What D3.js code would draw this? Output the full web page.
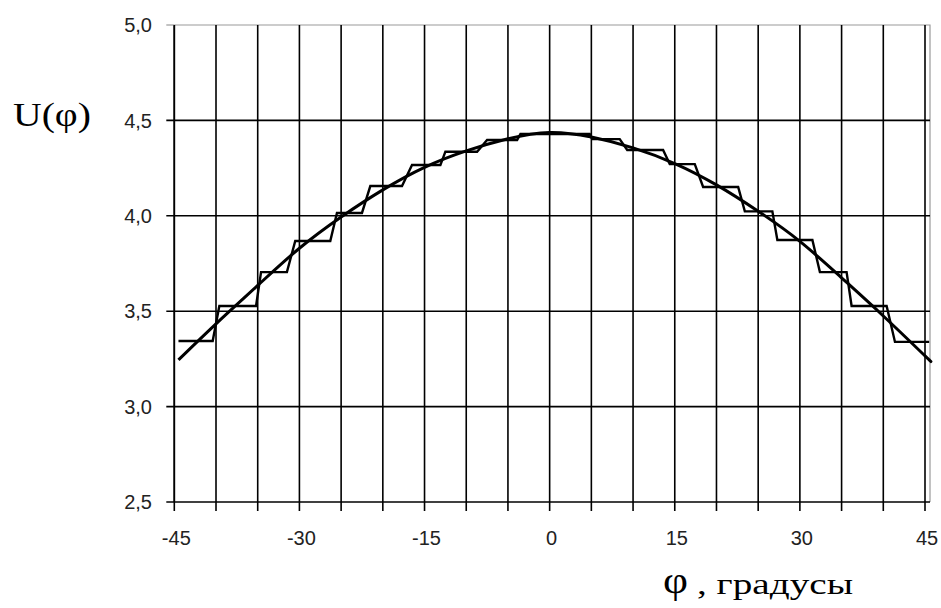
<!DOCTYPE html>
<html>
<head>
<meta charset="utf-8">
<script src="https://cdn.jsdelivr.net/npm/d3@7"></script>
<style>
    body { margin: 0; background: #fff; }
    #chart-area { width: 941px; height: 608px; }
    .tick-label { font-family: "Liberation Sans", Arial, sans-serif; font-size: 20px; fill: #222; }
    .axis-title { font-family: "Liberation Serif", "DejaVu Serif", "Times New Roman", serif; fill: #000; }
</style>
</head>
<body>
<div id="chart-area"></div>
<script>
// smooth curve U(phi)
const curvePhi = [-44.5, -40, -35, -30, -25, -20, -15, -10, -5, 0, 5, 10, 15, 20, 25, 30, 35, 40, 45, 45.5];
const curveU = [3.245, 3.434, 3.635, 3.83, 3.994, 4.136, 4.254, 4.34, 4.404, 4.437, 4.413, 4.356, 4.274, 4.162, 4.024, 3.866, 3.675, 3.475, 3.266, 3.245];

// staircase: each step holds a level from stepFrom to stepTo
const stepFrom = [-44.5, -39.6, -34.6, -30.5, -25.5, -21.5, -16.5, -12.5, -7.5, -3.5, 5.1, 9.3, 14.4, 18.4, 23.4, 27.3, 32.4, 36.2, 41.4];
const stepTo = [-40.4, -35.2, -31.5, -26.3, -22.5, -17.7, -13.1, -8.7, -3.9, 4.8, 8.4, 13.6, 17.4, 22.6, 26.7, 31.5, 35.6, 40.4, 45.5];
const stepU = [3.344, 3.527, 3.705, 3.868, 4.015, 4.156, 4.266, 4.336, 4.397, 4.429, 4.402, 4.345, 4.271, 4.151, 4.023, 3.873, 3.705, 3.527, 3.339];

// axes
const xGridTicks = d3.range(-45, 46, 5);
const xLabelTicks = [-45, -30, -15, 0, 15, 30, 45];
const yTicks = [2.5, 3.0, 3.5, 4.0, 4.5, 5.0];

class StepChart {

    constructor(parentElement) {
        this.parentElement = parentElement;
        this.initVis();
    }

    initVis() {
        let vis = this;

        vis.width = 941;
        vis.height = 608;

        vis.svg = d3.select("#" + vis.parentElement).append("svg")
            .attr("width", vis.width)
            .attr("height", vis.height);

        // scales (plot area of the original chart)
        vis.x = d3.scaleLinear().domain([-45, 45]).range([174.3, 925]);
        vis.y = d3.scaleLinear().domain([2.5, 5]).range([502, 25]);
        vis.rightEdge = 930;

        // gray frame at top and right
        vis.svg.append("path")
            .attr("d", `M${vis.x(-45)},${vis.y(5)}H${vis.rightEdge}V${vis.y(2.5)}`)
            .attr("fill", "none")
            .attr("stroke", "#9a9a9a")
            .attr("stroke-width", 1.2);

        // vertical grid lines + ticks below the axis
        vis.svg.append("g").selectAll("line")
            .data(xGridTicks)
            .enter().append("line")
            .attr("x1", d => vis.x(d))
            .attr("x2", d => vis.x(d))
            .attr("y1", vis.y(5))
            .attr("y2", vis.y(2.5) + 9)
            .attr("stroke", "#000")
            .attr("stroke-width", 1.6);

        // horizontal grid lines (5.0 is the frame) + ticks left of axis
        vis.svg.append("g").selectAll("line")
            .data(yTicks.filter(d => d < 5))
            .enter().append("line")
            .attr("x1", vis.x(-45) - 8)
            .attr("x2", vis.rightEdge)
            .attr("y1", d => vis.y(d))
            .attr("y2", d => vis.y(d))
            .attr("stroke", "#000")
            .attr("stroke-width", 1.6);

        vis.svg.append("line")
            .attr("x1", vis.x(-45) - 8)
            .attr("x2", vis.x(-45))
            .attr("y1", vis.y(5))
            .attr("y2", vis.y(5))
            .attr("stroke", "#9a9a9a")
            .attr("stroke-width", 1.2);

        // y axis line
        vis.svg.append("line")
            .attr("x1", vis.x(-45))
            .attr("x2", vis.x(-45))
            .attr("y1", vis.y(5))
            .attr("y2", vis.y(2.5))
            .attr("stroke", "#000")
            .attr("stroke-width", 1.6);

        // tick labels
        vis.svg.append("g").selectAll("text")
            .data(yTicks)
            .enter().append("text")
            .attr("class", "tick-label")
            .attr("x", 152)
            .attr("y", d => vis.y(d))
            .attr("dy", "0.36em")
            .attr("text-anchor", "end")
            .text(d => d3.format(".1f")(d).replace(".", ","));

        vis.svg.append("g").selectAll("text")
            .data(xLabelTicks)
            .enter().append("text")
            .attr("class", "tick-label")
            .attr("x", d => vis.x(d) + 2)
            .attr("y", 545)
            .attr("text-anchor", "middle")
            .text(d => d);

        // axis titles
        vis.svg.append("text")
            .attr("class", "axis-title")
            .attr("x", 13)
            .attr("y", 126)
            .attr("font-size", 34)
            .attr("textLength", 78)
            .attr("lengthAdjust", "spacingAndGlyphs")
            .text("U(φ)");

        vis.svg.append("text")
            .attr("class", "axis-title")
            .attr("x", 663)
            .attr("y", 593)
            .attr("font-size", 37)
            .attr("textLength", 25)
            .attr("lengthAdjust", "spacingAndGlyphs")
            .text("φ");

        vis.svg.append("text")
            .attr("class", "axis-title")
            .attr("x", 697)
            .attr("y", 594)
            .attr("font-size", 29)
            .attr("textLength", 156)
            .attr("lengthAdjust", "spacingAndGlyphs")
            .text(", градусы");

        vis.updateVis();
    }

    updateVis() {
        let vis = this;

        // staircase points: start and end of every step
        let stepPoints = [];
        stepU.forEach((u, i) => {
            stepPoints.push([stepFrom[i], u]);
            stepPoints.push([stepTo[i], u]);
        });

        let stepLine = d3.line()
            .x(d => vis.x(d[0]))
            .y(d => vis.y(d[1]));

        vis.svg.append("path")
            .datum(stepPoints)
            .attr("d", stepLine)
            .attr("fill", "none")
            .attr("stroke", "#000")
            .attr("stroke-width", 2.4)
            .attr("stroke-linejoin", "miter");

        // smooth curve
        let curveLine = d3.line()
            .x((d, i) => vis.x(curvePhi[i]))
            .y(d => vis.y(d))
            .curve(d3.curveNatural);

        vis.svg.append("path")
            .datum(curveU)
            .attr("d", curveLine)
            .attr("fill", "none")
            .attr("stroke", "#000")
            .attr("stroke-width", 3);
    }
}

let chart = new StepChart("chart-area");
</script>
</body>
</html>
